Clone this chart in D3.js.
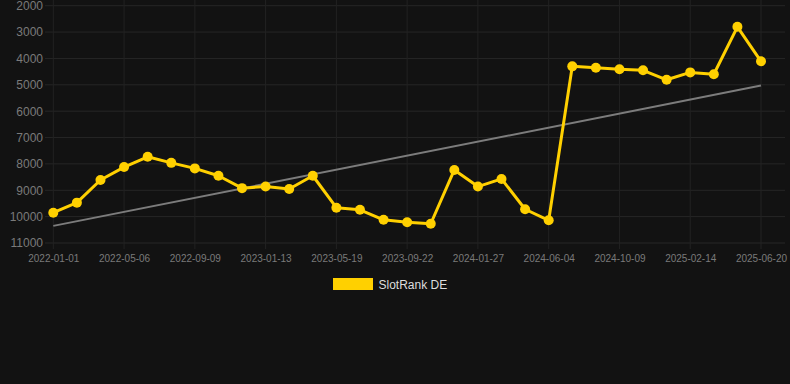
<!DOCTYPE html>
<html><head><meta charset="utf-8">
<script src="https://cdn.jsdelivr.net/npm/d3@7"></script>
<style>html,body{margin:0;padding:0;background:#121212;}svg{display:block;}</style>
</head><body><svg id="c" width="790" height="384"></svg>
<script>
const dates = ["2022-01-01","2022-02-12","2022-03-26","2022-05-06","2022-06-17","2022-07-29","2022-09-09","2022-10-21","2022-12-02","2023-01-13","2023-02-24","2023-04-07","2023-05-19","2023-06-30","2023-08-11","2023-09-22","2023-11-03","2023-12-15","2024-01-27","2024-03-10","2024-04-22","2024-06-04","2024-07-16","2024-08-27","2024-10-09","2024-11-20","2025-01-01","2025-02-14","2025-03-28","2025-05-09","2025-06-20"];
const ranks = [9850,9470,8610,8120,7730,7960,8170,8450,8920,8860,8950,8450,9660,9740,10120,10210,10270,8230,8860,8570,9720,10140,4300,4350,4410,4450,4810,4530,4600,2800,4110];
const trendValues = [10350, 5030];
const yTicks = [2000,3000,4000,5000,6000,7000,8000,9000,10000,11000];
const xTickLabels = ["2022-01-01","2022-05-06","2022-09-09","2023-01-13","2023-05-19","2023-09-22","2024-01-27","2024-06-04","2024-10-09","2025-02-14","2025-06-20"];
const seriesName = "SlotRank DE";

const svg = d3.select("#c");
const x = d3.scalePoint().domain(dates).range([53.3, 761]);
const y = d3.scaleLinear().domain([2000, 11000]).range([5.7, 243]);

// grid
const g = svg.append("g");
g.selectAll("line.h").data(yTicks).join("line")
  .attr("x1", 45).attr("x2", 785)
  .attr("y1", d => y(d)).attr("y2", d => y(d))
  .attr("stroke", "#262626").attr("stroke-width", 1);
g.selectAll("line.v").data(xTickLabels).join("line")
  .attr("x1", d => x(d)).attr("x2", d => x(d))
  .attr("y1", 0).attr("y2", 249)
  .attr("stroke", "#222").attr("stroke-width", 1);

// y axis labels
const yAxis = d3.axisLeft(y).tickValues(yTicks).tickSize(0).tickPadding(0).tickFormat(d3.format("d"));
svg.append("g").attr("transform", "translate(43,0)").call(yAxis)
  .call(a => a.select(".domain").remove())
  .selectAll("text").attr("fill", "#7a7a7a").attr("font-size", 12)
  .attr("font-family", "Liberation Sans, Arial, sans-serif");

// x axis labels
const xAxis = d3.axisBottom(x).tickValues(xTickLabels).tickSize(0).tickPadding(0);
svg.append("g").attr("transform", "translate(0,255)").call(xAxis)
  .call(a => a.select(".domain").remove())
  .selectAll("text").attr("fill", "#7a7a7a").attr("font-size", 10)
  .attr("font-family", "Liberation Sans, Arial, sans-serif");

// trend
svg.append("line")
  .attr("x1", x(dates[0])).attr("y1", y(trendValues[0]))
  .attr("x2", x(dates[dates.length-1])).attr("y2", y(trendValues[1]))
  .attr("stroke", "#7c7c7c").attr("stroke-width", 2);

// series
const data = dates.map((d, i) => ({d, v: ranks[i]}));
svg.append("path").datum(data)
  .attr("d", d3.line().x(p => x(p.d)).y(p => y(p.v)))
  .attr("fill", "none").attr("stroke", "#FFD000").attr("stroke-width", 3)
  .attr("stroke-linejoin", "round");
svg.selectAll("circle.pt").data(data).join("circle")
  .attr("cx", p => x(p.d)).attr("cy", p => y(p.v)).attr("r", 5)
  .attr("fill", "#FFD000");

// legend
svg.append("rect").attr("x", 333).attr("y", 278).attr("width", 40).attr("height", 12).attr("fill", "#FFD000");
svg.append("text").attr("x", 378.5).attr("y", 289).text(seriesName)
  .attr("fill", "#dddddd").attr("font-size", 12)
  .attr("font-family", "Liberation Sans, Arial, sans-serif");
</script></body></html>
